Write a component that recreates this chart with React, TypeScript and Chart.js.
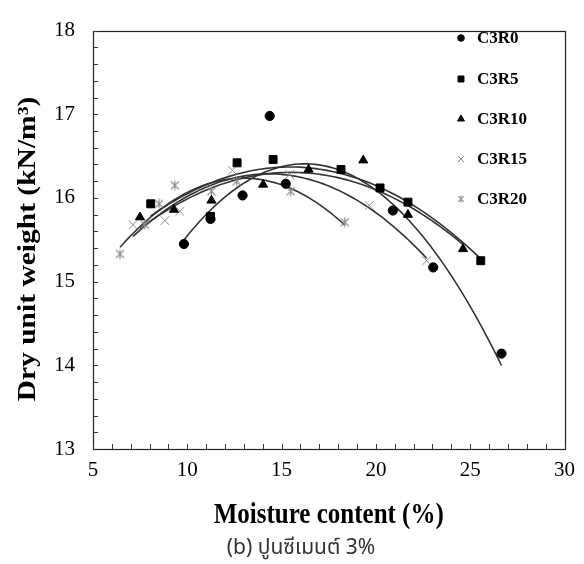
import React, { useEffect, useRef } from 'react';
import { Chart, registerables } from 'chart.js';
import { drawPoint } from 'chart.js/helpers';

Chart.register(...registerables);

// ---- data ----
const SERIES_NAMES = ['C3R0', 'C3R5', 'C3R10', 'C3R15', 'C3R20'];

const c3r0Moisture = [9.82, 11.23, 12.93, 14.37, 15.22, 20.9, 23.04, 26.66];
const c3r0Density = [15.45, 15.75, 16.03, 16.98, 16.17, 15.85, 15.17, 14.14];

const c3r5Moisture = [8.06, 11.23, 12.64, 14.55, 18.15, 20.22, 21.7, 25.56];
const c3r5Density = [15.93, 15.78, 16.42, 16.46, 16.34, 16.12, 15.95, 15.25];

const c3r10Moisture = [7.49, 9.29, 11.28, 14.02, 16.43, 19.33, 21.7, 24.62];
const c3r10Density = [15.77, 15.86, 15.97, 16.16, 16.34, 16.45, 15.8, 15.39];

const c3r15Moisture = [7.12, 8.81, 9.61, 12.39, 15.43, 19.65, 22.69];
const c3r15Density = [15.68, 15.73, 15.84, 16.33, 16.28, 15.91, 15.25];

const c3r20Moisture = [6.43, 7.75, 8.5, 9.34, 11.28, 12.62, 15.48, 18.35];
const c3r20Density = [15.33, 15.68, 15.93, 16.15, 16.08, 16.2, 16.08, 15.71];

const X_TICKS = [5, 10, 15, 20, 25, 30];
const Y_TICKS = [13, 14, 15, 16, 17, 18];
const X_TITLE = 'Moisture content (%)';
const Y_TITLE = 'Dry unit weight (kN/m³)';
const CAPTION = '(b) ปูนซีเมนต์ 3%';

const MOISTURE = [c3r0Moisture, c3r5Moisture, c3r10Moisture, c3r15Moisture, c3r20Moisture];
const DENSITY = [c3r0Density, c3r5Density, c3r10Density, c3r15Density, c3r20Density];

// quadratic least-squares trend line (like a spreadsheet's polynomial trendline)
function quadFit(xs: number[], ys: number[]) {
  let s0 = 0, s1 = 0, s2 = 0, s3 = 0, s4 = 0, t0 = 0, t1 = 0, t2 = 0;
  for (let i = 0; i < xs.length; i++) {
    const x = xs[i], y = ys[i];
    s0 += 1; s1 += x; s2 += x * x; s3 += x * x * x; s4 += x * x * x * x;
    t0 += y; t1 += x * y; t2 += x * x * y;
  }
  const M = [
    [s4, s3, s2, t2],
    [s3, s2, s1, t1],
    [s2, s1, s0, t0],
  ];
  for (let c = 0; c < 3; c++) {
    let p = c;
    for (let r = c + 1; r < 3; r++) if (Math.abs(M[r][c]) > Math.abs(M[p][c])) p = r;
    [M[c], M[p]] = [M[p], M[c]];
    for (let r = 0; r < 3; r++) {
      if (r === c) continue;
      const f = M[r][c] / M[c][c];
      for (let k = c; k < 4; k++) M[r][k] -= f * M[c][k];
    }
  }
  const a = M[0][3] / M[0][0], b = M[1][3] / M[1][1], c = M[2][3] / M[2][2];
  return (x: number) => a * x * x + b * x + c;
}

function trendPoints(xs: number[], ys: number[]) {
  const f = quadFit(xs, ys);
  const lo = Math.min(...xs), hi = Math.max(...xs);
  const pts: { x: number; y: number }[] = [];
  const n = 80;
  for (let i = 0; i <= n; i++) {
    const x = lo + ((hi - lo) * i) / n;
    pts.push({ x, y: f(x) });
  }
  return pts;
}

function makeAsterisk(size: number, color: string) {
  const c = document.createElement('canvas');
  c.width = size; c.height = size;
  const g = c.getContext('2d')!;
  g.strokeStyle = color;
  g.lineWidth = 1.1;
  const m = size / 2, r = size / 2 - 0.5;
  g.beginPath();
  g.moveTo(m, m - r); g.lineTo(m, m + r);
  g.moveTo(m - r * 0.8, m - r * 0.8); g.lineTo(m + r * 0.8, m + r * 0.8);
  g.moveTo(m + r * 0.8, m - r * 0.8); g.lineTo(m - r * 0.8, m + r * 0.8);
  g.stroke();
  return c;
}

const SERIF = '"Liberation Serif", "Times New Roman", serif';

export default function App() {
  const ref = useRef<HTMLCanvasElement>(null);

  useEffect(() => {
    const canvas = ref.current!;
    const starBig = makeAsterisk(11, '#8c8c8c');
    const starSmall = makeAsterisk(8, '#8c8c8c');

    const markers: any[] = [
      { style: 'circle', radius: 4.6, lradius: 3.3, fill: '#000', stroke: '#000' },
      { style: 'rect', radius: 5.6, lradius: 4.2, fill: '#000', stroke: '#000' },
      { style: 'triangle', radius: 5.2, lradius: 4, fill: '#000', stroke: '#000' },
      { style: 'crossRot', radius: 6.2, lradius: 4.6, fill: '#8c8c8c', stroke: '#8c8c8c' },
      { style: starBig, lstyle: starSmall, radius: 5.5, lradius: 4, fill: '#8c8c8c', stroke: '#8c8c8c' },
    ];

    const scatterSets = SERIES_NAMES.map((name, i) => ({
      type: 'scatter' as const,
      label: name,
      data: MOISTURE[i].map((x, k) => ({ x, y: DENSITY[i][k] })),
      pointStyle: markers[i].style,
      pointRadius: markers[i].radius,
      pointBackgroundColor: markers[i].fill,
      pointBorderColor: markers[i].stroke,
      pointBorderWidth: 1,
      showLine: false,
      order: 0,
    }));

    const trendSets = SERIES_NAMES.map((name, i) => ({
      type: 'line' as const,
      label: name + ' trend',
      data: trendPoints(MOISTURE[i], DENSITY[i]),
      borderColor: '#333333',
      borderWidth: 1.6,
      pointRadius: 0,
      fill: false,
      tension: 0,
      order: 1,
    }));

    const decor = {
      id: 'decor',
      afterDraw(chart: any) {
        const { ctx, chartArea: a, scales } = chart;
        const xs = scales.x, ys = scales.y;
        ctx.save();
        // frame
        ctx.strokeStyle = '#222222';
        ctx.lineWidth = 1.2;
        ctx.strokeRect(Math.round(a.left) + 0.5, Math.round(a.top) + 0.5,
          Math.round(a.right - a.left), Math.round(a.bottom - a.top));
        // inward minor / major ticks
        ctx.lineWidth = 1;
        ctx.strokeStyle = '#333333';
        ctx.beginPath();
        for (let i = 0; i <= 25; i++) {
          const px = Math.round(xs.getPixelForValue(xs.min + i)) + 0.5;
          ctx.moveTo(px, a.bottom);
          ctx.lineTo(px, a.bottom - 5);
        }
        for (let i = 0; i <= 25; i++) {
          const py = Math.round(ys.getPixelForValue(ys.min + i * 0.2)) + 0.5;
          ctx.moveTo(a.left, py);
          ctx.lineTo(a.left + 5, py);
        }
        ctx.stroke();

        // legend
        const rowY = [38, 79, 119, 159, 199];
        ctx.font = 'bold 17px ' + SERIF;
        ctx.textBaseline = 'middle';
        ctx.textAlign = 'left';
        chart.data.datasets.slice(0, 5).forEach((ds: any, i: number) => {
          const m = markers[i];
          ctx.fillStyle = m.fill;
          ctx.strokeStyle = m.stroke;
          ctx.lineWidth = 1;
          drawPoint(ctx, { pointStyle: m.lstyle || m.style, radius: m.lradius, rotation: 0, borderWidth: 1 }, 461, rowY[i]);
          ctx.fillStyle = '#000';
          ctx.fillText(ds.label, 477, rowY[i] + 1);
        });

        // axis titles (stretched vertically like the reference)
        ctx.fillStyle = '#000';
        ctx.font = 'bold 25px ' + SERIF;
        ctx.textAlign = 'center';
        ctx.textBaseline = 'alphabetic';
        ctx.save();
        ctx.translate((a.left + a.right) / 2, 523);
        ctx.scale(1, 1.18);
        ctx.fillText(X_TITLE, 0, 0);
        ctx.restore();

        ctx.save();
        ctx.translate(35, 249);
        ctx.rotate(-Math.PI / 2);
        ctx.scale(1.18, 1);
        ctx.fillText(Y_TITLE, 0, 0);
        ctx.restore();

        ctx.restore();
      },
    };

    const chart = new Chart(canvas, {
      data: { datasets: [...scatterSets, ...trendSets] as any },
      options: {
        animation: false,
        responsive: false,
        maintainAspectRatio: false,
        layout: { padding: { left: 0, right: 18, top: 21, bottom: 0 } },
        plugins: { legend: { display: false }, tooltip: { enabled: false }, title: { display: false } },
        scales: {
          x: {
            type: 'linear',
            min: 5,
            max: 30,
            afterFit: (s: any) => { s.height = 564 - 449; },
            afterBuildTicks: (s: any) => { s.ticks = X_TICKS.map((v) => ({ value: v })); },
            grid: { display: false, drawTicks: false },
            border: { display: false },
            ticks: { color: '#000', font: { family: SERIF, size: 21 }, padding: 9, maxRotation: 0 },
          },
          y: {
            type: 'linear',
            min: 13,
            max: 18,
            afterFit: (s: any) => { s.width = 93; },
            afterBuildTicks: (s: any) => { s.ticks = Y_TICKS.map((v) => ({ value: v })); },
            grid: { display: false, drawTicks: false },
            border: { display: false },
            ticks: { color: '#000', font: { family: SERIF, size: 21 }, padding: 18 },
          },
        },
      } as any,
      plugins: [decor],
    });
    return () => chart.destroy();
  }, []);

  return (
    <div style={{ position: 'fixed', left: 0, top: 0, width: 584, height: 564, overflow: 'hidden', background: '#fff' }}>
      <canvas ref={ref} width={584} height={564} style={{ display: 'block', width: 584, height: 564 }} />
      <div
        style={{
          position: 'absolute',
          left: 0,
          width: 602,
          top: 532,
          textAlign: 'center',
          fontFamily: '"Noto Sans Thai", "Noto Sans", "DejaVu Sans", sans-serif',
          fontSize: 21,
          color: '#333',
          whiteSpace: 'nowrap',
        }}
      >
        {CAPTION}
      </div>
    </div>
  );
}
